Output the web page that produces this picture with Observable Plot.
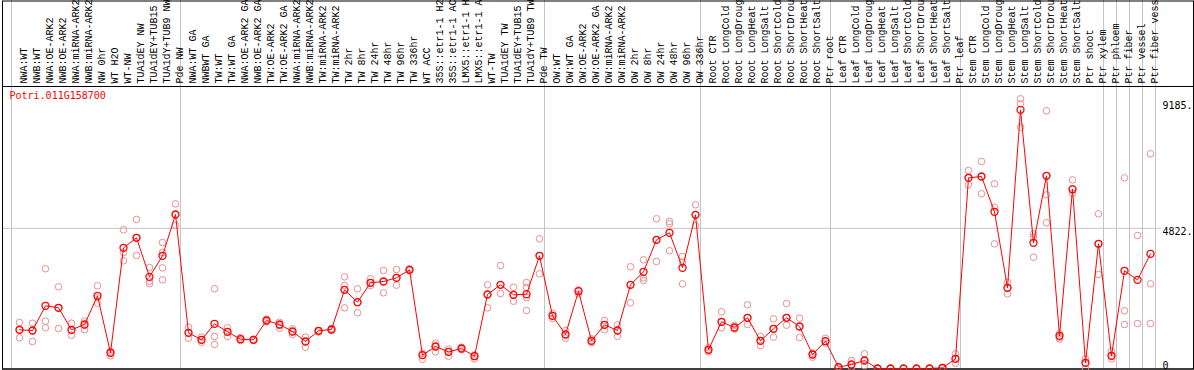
<!DOCTYPE html>
<html><head><meta charset="utf-8">
<script src="https://cdn.jsdelivr.net/npm/d3@7"></script>
<script src="https://cdn.jsdelivr.net/npm/@observablehq/plot@0.6"></script>
<style>body{margin:0;background:#fff} svg{display:block}</style>
</head><body><div id="chart"></div>
<script>
const geneId = "Potri.011G158700";
const labels = [
"NWA:WT","NWB:WT","NWA:OE-ARK2","NWB:OE-ARK2","NWA:miRNA-ARK2","NWB:miRNA-ARK2","NW 0hr","WT H2O","WT-NW","TUA1dEY NW","TUA1dEY+TUB15 NW","TUA1dY+TUB9 NW","Pde NW",
"NWA:WT GA","NWBWT GA","TW:WT","TW:WT GA","NWA:OE-ARK2 GA","NWB:OE-ARK2 GA","TW:OE-ARK2","TW:OE-ARK2 GA","NWA:miRNA-ARK2 GA","NWB:miRNA-ARK2 GA","TW:miRNA-ARK2","TW:miRNA-ARK2","TW 2hr","TW 8hr","TW 24hr","TW 48hr","TW 96hr","TW 336hr","WT ACC","35S::etr1-1 H2O","35S::etr1-1 ACC","LMX5::etr1-1 H2O","LMX5::etr1-1 ACC","WT-TW","TUA1dEY TW","TUA1dEY+TUB15 TW","TUA1dY+TUB9 TW","Pde TW",
"OW:WT","OW:WT GA","OW:OE-ARK2","OW:OE-ARK2 GA","OW:miRNA-ARK2","OW:miRNA-ARK2","OW 2hr","OW 8hr","OW 24hr","OW 48hr","OW 96hr","OW 336hr",
"Root CTR","Root LongCold","Root LongDrought","Root LongHeat","Root LongSalt","Root ShortCold","Root ShortDrought","Root ShortHeat","Root ShortSalt","Ptr root",
"Leaf CTR","Leaf LongCold","Leaf LongDrought","Leaf LongHeat","Leaf LongSalt","Leaf ShortCold","Leaf ShortDrought","Leaf ShortHeat","Leaf ShortSalt","Ptr leaf",
"Stem CTR","Stem LongCold","Stem LongDrought","Stem LongHeat","Stem LongSalt","Stem ShortCold","Stem ShortDrought","Stem ShortHeat","Stem ShortSalt","Ptr shoot","Ptr xylem",
"Ptr phloem","Ptr fiber","Ptr vessel","Ptr fiber vessel"
];
const means = [
1331,1307,2157,2088,1331,1514,2501,540,4152,4496,3154,3877,5298,
1228,987,1538,1262,1008,987,1651,1514,1273,929,1297,1342,2707,2281,2948,2993,3120,3395,458,757,574,688,423,2546,2879,2535,2556,3877,
1813,1170,2659,953,1503,1307,2879,3327,4427,4668,3464,5287,
643,1607,1410,1744,953,1366,1744,1445,482,939,
45,138,275,0,0,0,0,0,24,334,
6560,6605,5391,2776,8899,4324,6629,1125,6168,196,4290,
437,3361,3051,3946
];
const reps = [
[1582,1331,1056],[1558,1307,929],[3430,1627,1400],[2811,2088,1376],[1558,1307,1146],[1627,1490,1331],[2845,2432,2246],[595,540,437],[4771,3990,3705],[5126,4496,3887],[3474,3003,2914],[4334,3990,3464,3051],[5666,5298,4930],
[1421,1228,1042],[1077,987,905],[2742,1101,826],[1400,1262,1101],[1066,1008,963],[1008,987,963],[1696,1651,1607],[1593,1479,1386],[1366,1262,1170],[1077,929,733],[1307,1297,1249],[1376,1342,1307],[3154,2855,2707,2088],[2742,2281,1916],[3086,2948,2855],[3371,2993,2604],[3406,3120,2866],[3430,3395,3361],[526,458,320],[870,757,574],[664,574,423],[733,688,643],[471,423,334],[2879,2546,2088],[3543,2879,2580],[2797,2535,2315],[2958,2786,2442,1995],[4462,3877,3258],
[1892,1813,1720],[1307,1170,1042],[2707,2659,2570],[1022,953,884],[1651,1503,1331],[1503,1307,1111],[3499,2879,2260],[3739,3120,3027],[5150,4427,3681],[5057,4978,4049],[3853,3657,2914],[5631,5287,4919],
[712,643,574],[1951,1593,1400],[1479,1410,1352],[2191,1744,1514],[1101,953,791],[1710,1366,1077],[2236,1744,1490],[1730,1445,1066],[526,482,389],[1042,939,870],
[60,45,20],[275,138,45],[506,275,103],[10,5,0],[10,0,5],[5,0,0],[0,5,0],[5,0,0],[34,24,10],[506,334,182],
[6811,6560,6319],[7121,6605,6010],[6354,5549,4290],[2969,2776,2570],[9278,9106,8301],[4634,4517,3829],[8865,6629,5975,5012],[1194,1077,1022],[6491,6168,6031],[334,196,0],[5322,4290,3234],
[595,437,334],[6560,1985,1514],[4575,1548],[7386,2914,1548]
];
const groupBreaks = [0,13,41,53,63,73,84,85,86,87,88];
const yTicksTop = [9185, 4822];
const yTickLabelsTop = ["9185.", "4822."];
const yTickBottom = [0];
const yTickLabelsBottom = ["0"];
const gridLineValue = 4822;

const meanData = means.map((v, i) => ({i, v}));
const repData = reps.flatMap((r, i) => r.map(v => ({i, v})));
const labelData = labels.map((t, i) => ({i, t}));
const cx = d => d.i + 0.5;

const chart = Plot.plot({
  width: 1194, height: 370,
  marginTop: 86, marginBottom: 1.5, marginLeft: 2, marginRight: 1,
  x: {type: "linear", domain: [0, labels.length], range: [11, 1155], axis: null},
  y: {domain: [0, 9185], range: [368, 101], axis: null},
  style: {fontFamily: "DejaVu Sans Mono", fontSize: "10px", background: "white", color: "black"},
  marks: [
    Plot.ruleX(groupBreaks, {x: d => d, stroke: "#c4c4c4", insetTop: -86}),
    Plot.ruleY([gridLineValue], {stroke: "#c4c4c4", insetRight: 32}),
    Plot.frame({stroke: "black", insetTop: -85.5}),
    Plot.frame({stroke: "black"}),
    Plot.text(labelData, {x: cx, dx: 1.5, text: "t", frameAnchor: "top", rotate: -90, textAnchor: "start", dy: -3, fontFamily: "Liberation Mono", fontSize: 10, fill: "black"}),
    Plot.text([geneId], {frameAnchor: "top-left", dx: 7, dy: 5, fill: "red", fontSize: 10}),
    Plot.dot(repData, {x: cx, y: "v", dx: 1.5, r: 3.3, stroke: "#ec9090", strokeWidth: 1, fill: "none"}),
    Plot.line(meanData, {x: cx, y: "v", dx: 1.5, stroke: "red", strokeWidth: 1}),
    Plot.dot(meanData, {x: cx, y: "v", dx: 1.5, r: 3.5, stroke: "red", strokeWidth: 1.3, fill: "none"}),
    Plot.text(yTicksTop, {y: d => d, text: (d, i) => yTickLabelsTop[i], frameAnchor: "right", textAnchor: "end", lineAnchor: "top", dx: -1, fill: "black"}),
    Plot.text(yTickBottom, {y: d => d, text: (d, i) => yTickLabelsBottom[i], frameAnchor: "right", textAnchor: "end", lineAnchor: "bottom", dx: -25, fill: "black"})
  ]
});
document.getElementById("chart").appendChild(chart);
</script>
</body></html>
